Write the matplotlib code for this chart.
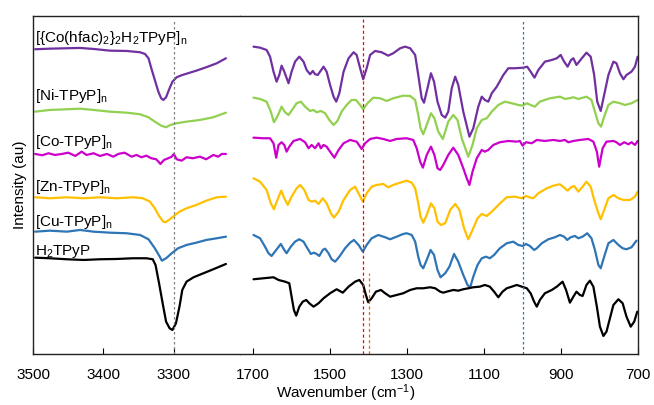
import matplotlib
matplotlib.use('Agg')
import matplotlib.pyplot as plt

plt.rcParams['font.family'] = ['Liberation Sans', 'DejaVu Sans']
plt.rcParams['mathtext.default'] = 'regular'

# spectra as (wavenumber, stacked intensity in au)
# N-H stretch window
hi_co_hfac = [(3497, 304.7), (3476, 305.3), (3452, 305.7), (3433, 306), (3414, 305), (3391, 303.3),
              (3367, 303), (3348, 301.7), (3341, 300), (3336, 295.7), (3332, 285.7), (3327, 274),
              (3322, 262.3), (3318, 255.7), (3315, 254), (3311, 256.7), (3307, 264), (3302, 272.3),
              (3296, 276.7), (3289, 278.7), (3280, 280.7), (3268, 283.3), (3254, 286.7),
              (3239, 290.7), (3226, 295.7)]
hi_ni = [(3497, 242.3), (3476, 244), (3452, 244.7), (3433, 245.3), (3414, 244), (3391, 242.3),
         (3367, 241.3), (3348, 239.7), (3336, 236.7), (3327, 232.3), (3318, 228.3), (3311, 226.7),
         (3305, 229), (3296, 230.7), (3282, 232.3), (3263, 234), (3244, 236.7), (3226, 241.3)]
hi_co = [(3497, 200), (3487, 198.7), (3478, 200.7), (3469, 199), (3459, 200), (3450, 201.3),
         (3440, 198), (3431, 202.3), (3424, 199), (3414, 200.7), (3405, 198), (3395, 200),
         (3386, 197.3), (3379, 200), (3370, 201.3), (3360, 197.3), (3353, 199), (3346, 196.7),
         (3339, 198.3), (3332, 195.7), (3325, 194.7), (3319, 190), (3314, 194), (3308, 195.7),
         (3303, 197.3), (3300, 200), (3296, 194.7), (3289, 193.3), (3282, 196.7), (3273, 195.7),
         (3263, 197.3), (3254, 194.7), (3244, 199), (3237, 197.3), (3232, 200), (3226, 200)]
hi_zn = [(3497, 156.7), (3476, 155.7), (3452, 156.7), (3428, 155.7), (3405, 156.7), (3381, 155.7),
         (3358, 156.7), (3344, 155.7), (3334, 152.3), (3327, 145.7), (3321, 138), (3315, 132.3),
         (3312, 131.7), (3307, 134), (3301, 137.3), (3292, 142.3), (3282, 145.7), (3268, 149),
         (3254, 153.3), (3239, 156.7), (3226, 157.3)]
hi_cu = [(3497, 122.3), (3476, 123.3), (3452, 122.3), (3433, 124), (3414, 122.3), (3391, 121.3),
         (3367, 120.7), (3348, 119), (3336, 114.7), (3327, 105.7), (3320, 97.3), (3317, 93.3),
         (3311, 95.7), (3303, 100.7), (3294, 105.7), (3282, 109), (3268, 111.3), (3254, 114),
         (3239, 115.7), (3226, 117.3)]
hi_h2 = [(3497, 96.3), (3476, 95.7), (3452, 94.7), (3428, 94), (3405, 94.7), (3381, 95),
         (3358, 95.7), (3339, 95.7), (3330, 94.7), (3326, 89), (3321, 70.7), (3315, 47.3),
         (3311, 32.3), (3306, 25.7), (3302, 24), (3297, 30.7), (3292, 47.3), (3288, 64),
         (3282, 72.3), (3272, 76.7), (3258, 80.7), (3244, 84.7), (3226, 90)]

# fingerprint window
lo_co_hfac = [(1699, 307.3), (1682, 306.3), (1665, 304), (1656, 297.3), (1647, 282.3), (1639, 272.3),
              (1632, 279), (1626, 288.3), (1619, 282.3), (1608, 270.7), (1600, 282.3), (1591, 292.3),
              (1580, 297.3), (1569, 292.3), (1561, 284), (1552, 279.7), (1545, 283), (1539, 279.7),
              (1532, 279), (1526, 282.3), (1517, 287.3), (1509, 282.3), (1500, 269), (1491, 257.3),
              (1484, 252.3), (1476, 260.7), (1465, 282.3), (1452, 295.7), (1439, 301.7), (1431, 299),
              (1422, 285.7), (1414, 274.7), (1405, 285.7), (1396, 299), (1383, 303), (1366, 301.7),
              (1349, 298.3), (1336, 300.7), (1318, 305.7), (1305, 307.3), (1292, 305.7), (1279, 299),
              (1271, 279), (1262, 255.7), (1256, 251.3), (1247, 265.7), (1238, 280.7), (1230, 272.3),
              (1221, 252.3), (1210, 239), (1201, 236.3), (1193, 242.3), (1184, 265.7), (1175, 277.3),
              (1167, 269), (1154, 242.3), (1138, 217.3), (1128, 225.7), (1115, 247.3), (1106, 257.3),
              (1098, 254), (1089, 252.3), (1080, 260.7), (1067, 267.3), (1050, 279), (1037, 285.7),
              (1020, 285.7), (998, 286.3), (988, 287.3), (979, 282.3), (969, 276.3), (959, 284),
              (942, 292.3), (924, 294), (911, 295.7), (901, 299), (892, 292.3), (883, 287.3),
              (874, 294), (868, 295.7), (860, 289), (846, 295.7), (834, 301.3), (823, 297.3),
              (814, 279), (806, 252.3), (797, 243), (788, 259), (777, 279), (764, 292.3),
              (756, 290.7), (747, 280.7), (738, 274.7), (730, 279), (717, 282.3), (708, 287.3),
              (701, 297.3)]
lo_ni = [(1699, 256.3), (1682, 255), (1665, 252.3), (1654, 242.3), (1646, 231.7), (1637, 237.3),
         (1626, 247.3), (1617, 241.7), (1608, 239), (1597, 245), (1587, 250.7), (1576, 252.3),
         (1565, 247.3), (1552, 243), (1543, 244), (1535, 241.7), (1524, 243), (1513, 240.7),
         (1502, 234), (1491, 229), (1481, 233), (1470, 242.3), (1457, 249), (1444, 254),
         (1433, 254), (1422, 249), (1414, 244.7), (1403, 250.7), (1388, 256.3), (1370, 255.7),
         (1353, 253), (1336, 255.7), (1310, 258.3), (1292, 258), (1279, 254), (1271, 239),
         (1265, 225.7), (1258, 219.7), (1249, 229), (1238, 240.7), (1229, 235.7), (1219, 222.3),
         (1207, 215), (1193, 232.3), (1180, 239), (1169, 234), (1158, 215.7), (1141, 197.3),
         (1130, 209), (1119, 225.7), (1106, 234), (1093, 235.7), (1080, 242.3), (1063, 249),
         (1046, 252.3), (1028, 250.7), (1011, 249), (1000, 248.3), (989, 250.7), (979, 249),
         (968, 247.3), (955, 252.3), (929, 255.7), (903, 257.3), (890, 255), (879, 255.7),
         (868, 256.7), (855, 255), (834, 257.3), (821, 254), (812, 242.3), (803, 230.7),
         (796, 227.3), (788, 237.3), (777, 249), (764, 252.3), (747, 250.7), (734, 249),
         (717, 250.7), (701, 254)]
lo_co = [(1699, 216.3), (1673, 215.7), (1656, 215.7), (1647, 210.7), (1640, 196.3), (1634, 209),
         (1626, 211.7), (1619, 209), (1613, 202.3), (1606, 207.3), (1595, 213), (1578, 215),
         (1565, 211.7), (1556, 205.7), (1548, 209), (1539, 205.7), (1530, 210.7), (1524, 205.7),
         (1517, 209), (1509, 207.3), (1500, 202.3), (1489, 196.3), (1478, 204), (1465, 210.7),
         (1448, 214), (1431, 212.3), (1418, 205), (1409, 210.7), (1396, 215), (1379, 216.3),
         (1362, 215), (1344, 213), (1327, 215), (1301, 215.7), (1284, 214), (1275, 205.7),
         (1266, 192.3), (1259, 186.3), (1249, 199), (1238, 207.3), (1229, 199), (1221, 185.7),
         (1214, 184), (1206, 189), (1193, 199), (1180, 206.3), (1167, 199), (1154, 185.7),
         (1145, 175.7), (1138, 169), (1130, 182.3), (1119, 195.7), (1106, 204), (1098, 202.3),
         (1089, 204), (1076, 209), (1059, 211.7), (1037, 213), (1015, 212.3), (1007, 213),
         (1000, 208.3), (991, 211.7), (976, 210.7), (963, 214), (942, 213), (920, 214),
         (903, 213), (890, 214), (881, 211.7), (868, 213), (851, 214), (829, 215), (816, 212.3),
         (807, 202.3), (801, 187.3), (792, 205.7), (782, 212.3), (764, 213), (756, 211.7),
         (747, 209), (736, 211.7), (725, 209.7), (717, 211.7), (708, 209), (701, 213)]
lo_zn = [(1699, 175.7), (1682, 172.3), (1665, 164), (1654, 150.7), (1646, 144.7), (1637, 154),
         (1627, 163.3), (1619, 155.7), (1610, 149), (1600, 157.3), (1587, 165.7), (1578, 169),
         (1567, 164), (1556, 154), (1548, 152.3), (1539, 153.3), (1530, 150), (1519, 155.7),
         (1509, 150.7), (1498, 140.7), (1490, 136.3), (1478, 142.3), (1465, 154), (1448, 164),
         (1435, 167.3), (1424, 159), (1415, 152.3), (1405, 160.7), (1392, 167.3), (1379, 169),
         (1362, 170), (1349, 166.7), (1336, 169), (1318, 171.3), (1301, 173.3), (1288, 171.3),
         (1279, 165.7), (1271, 150.7), (1265, 137.3), (1258, 131.3), (1249, 139), (1238, 150.7),
         (1229, 145.7), (1221, 132.3), (1212, 129), (1201, 130.7), (1188, 144), (1175, 150),
         (1164, 144), (1152, 125.7), (1141, 114.7), (1130, 124), (1117, 135.7), (1106, 140),
         (1093, 138), (1080, 142.3), (1067, 147.3), (1054, 152.3), (1041, 156.7), (1020, 157.3),
         (1002, 155.7), (991, 158), (982, 156.7), (972, 155.7), (959, 160.7), (937, 165.7),
         (920, 168.3), (903, 169.7), (892, 166.3), (883, 163.3), (874, 166.7), (866, 168),
         (855, 162.3), (844, 167.3), (834, 172.3), (823, 167.3), (814, 154), (803, 140.7),
         (797, 134.7), (788, 144), (777, 155.7), (764, 159), (751, 155.7), (738, 154),
         (721, 154), (708, 157.3), (701, 162.3)]
lo_cu = [(1699, 119), (1682, 115.7), (1669, 107.3), (1660, 100.7), (1652, 98), (1640, 104),
         (1628, 110), (1619, 104), (1613, 100.7), (1602, 107.3), (1591, 112.3), (1580, 114.7),
         (1569, 112.3), (1559, 105.7), (1550, 100), (1542, 101.3), (1535, 100), (1528, 98),
         (1519, 104), (1513, 105.3), (1504, 100.7), (1496, 94.7), (1487, 92.3), (1476, 97.3),
         (1461, 105.7), (1448, 111.3), (1438, 114), (1426, 109), (1415, 102.3), (1405, 109),
         (1392, 115.7), (1375, 119), (1357, 116.7), (1344, 114.7), (1327, 117.3), (1310, 120),
         (1301, 120.7), (1288, 119), (1279, 112.3), (1271, 97.3), (1265, 89), (1258, 85.7),
         (1249, 94), (1239, 104), (1230, 99), (1221, 84), (1213, 76.7), (1201, 80.7),
         (1190, 87.3), (1178, 100), (1167, 92.3), (1154, 79), (1143, 69), (1136, 66.7),
         (1128, 77.3), (1117, 89), (1106, 95.7), (1095, 97.3), (1085, 95.7), (1074, 99),
         (1059, 105.7), (1041, 110.7), (1024, 112.3), (1011, 109), (1000, 108), (991, 110),
         (981, 108), (970, 104), (963, 105.7), (950, 110.7), (933, 114.7), (916, 116.7),
         (903, 119), (892, 117.3), (884, 114), (875, 116.7), (864, 118), (855, 115.7),
         (844, 117.3), (832, 120.7), (821, 115.7), (812, 104), (803, 89), (797, 85.7),
         (788, 97.3), (777, 110.7), (764, 114), (751, 109), (740, 105.7), (730, 104.7),
         (717, 106.7), (704, 113.3)]
lo_h2 = [(1699, 74.7), (1673, 75.7), (1647, 76.7), (1634, 74), (1617, 72.3), (1606, 70.7),
         (1600, 57.3), (1594, 44), (1588, 38.3), (1580, 47.3), (1571, 52.3), (1562, 54),
         (1554, 50.7), (1543, 47.3), (1530, 50.7), (1517, 55.7), (1500, 60.7), (1483, 64.7),
         (1467, 61.3), (1452, 67.3), (1435, 72.3), (1424, 74), (1414, 69), (1407, 59),
         (1401, 51.7), (1392, 55.7), (1381, 62.3), (1368, 64), (1357, 60.7), (1344, 57.3),
         (1327, 59), (1310, 60.7), (1292, 64), (1275, 65.7), (1258, 65.7), (1240, 66.7),
         (1227, 65.7), (1214, 62.3), (1206, 61.3), (1197, 62.3), (1180, 64), (1167, 63.3),
         (1154, 64.7), (1141, 65.7), (1128, 66.7), (1111, 67.3), (1098, 69), (1085, 67.3),
         (1074, 62.3), (1063, 56.7), (1052, 62.3), (1041, 65.7), (1028, 67.3), (1015, 69),
         (1002, 67.3), (989, 65.7), (979, 60.7), (970, 52.3), (963, 47.3), (955, 54),
         (942, 60.7), (924, 64), (911, 67.3), (896, 72.3), (887, 64), (877, 51.3), (868, 57.3),
         (860, 62.3), (851, 59), (844, 58), (834, 69), (825, 73.3), (816, 67.3), (807, 47.3),
         (799, 27.3), (790, 18), (782, 22.3), (773, 35.7), (764, 49), (751, 54.7), (740, 50.7),
         (730, 37.3), (719, 27.3), (710, 32.3), (702, 42.3)]

labels = [r'[{Co(hfac)$_2$}$_2$H$_2$TPyP]$_n$', r'[Ni-TPyP]$_n$', r'[Co-TPyP]$_n$',
          r'[Zn-TPyP]$_n$', r'[Cu-TPyP]$_n$', r'H$_2$TPyP']
label_y = [316, 258, 212, 167, 132, 102]
colors = ['#7030A0', '#92D050', '#CC00CC', '#FFC000', '#2E75B6', '#000000']

hi_data = [hi_co_hfac, hi_ni, hi_co, hi_zn, hi_cu, hi_h2]
lo_data = [lo_co_hfac, lo_ni, lo_co, lo_zn, lo_cu, lo_h2]

fig = plt.figure(figsize=(6.54, 4.05), dpi=100)
ax1 = fig.add_axes([0.0505, 0.126, 0.3165, 0.8346])
ax2 = fig.add_axes([0.3670, 0.126, 0.6086, 0.8346], sharey=ax1)

for trace, c in zip(hi_data, colors):
    wn, y = zip(*trace)
    ax1.plot(wn, y, color=c, lw=1.6, solid_joinstyle='round', solid_capstyle='round')
for trace, c in zip(lo_data, colors):
    wn, y = zip(*trace)
    ax2.plot(wn, y, color=c, lw=1.6, solid_joinstyle='round', solid_capstyle='round')

for txt, yy in zip(labels, label_y):
    ax1.text(3497, yy, txt, fontsize=11, va='center', ha='left')

# marker lines
ax1.vlines(3300, 0, 334, color='#808080', lw=0.9, linestyles=(0, (2, 2)))
ax2.vlines(1415, 0, 335, color='#FF0000', lw=0.9, linestyles=(0, (2.5, 2)))
ax2.vlines(1400, 0, 81, color='#E46C0A', lw=0.9, linestyles=(0, (2.5, 2)))
ax2.vlines(1000, 0, 335, color='#2E75B6', lw=0.9, linestyles=(0, (2, 2)))

ax1.set_xlim(3500, 3206)
ax2.set_xlim(1734, 700)
ax1.set_ylim(0, 338)
ax1.set_xticks([3500, 3400, 3300])
ax2.set_xticks([1700, 1500, 1300, 1100, 900, 700])

for ax in (ax1, ax2):
    ax.tick_params(axis='x', direction='in', length=4, labelsize=11, pad=10)
    ax.tick_params(axis='y', left=False, labelleft=False, right=False)
    for s in ax.spines.values():
        s.set_linewidth(1.0)
        s.set_color('#222222')
ax1.spines['right'].set_visible(False)
ax2.spines['left'].set_visible(False)

ax1.set_ylabel('Intensity (au)', fontsize=11, labelpad=4)
fig.text(0.528, 0.028, 'Wavenumber (cm$^{-1}$)', fontsize=11, ha='center', va='center')

fig.savefig('out.png', dpi=100)
